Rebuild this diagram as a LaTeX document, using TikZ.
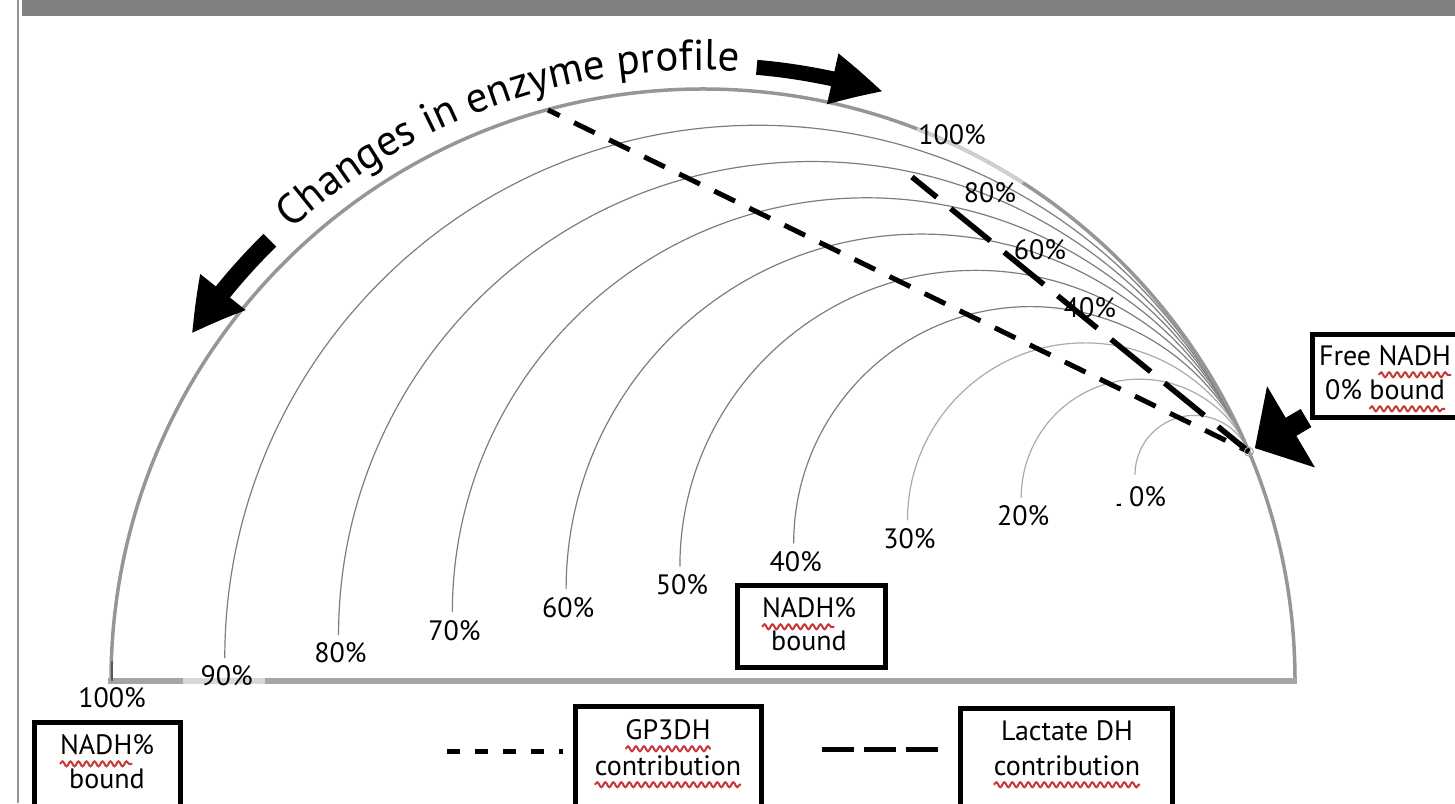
\documentclass[tikz,border=0pt]{standalone}
\usepackage{fontspec}
\setmainfont{PT Sans}
\usetikzlibrary{arrows.meta,bending,calc,decorations.text,decorations.pathmorphing}
\definecolor{sqred}{RGB}{200,55,55}
\definecolor{arcgray}{RGB}{125,125,125}
\definecolor{arclight}{RGB}{170,170,170}
\definecolor{rimgray}{RGB}{150,150,150}
\definecolor{basegray}{RGB}{165,165,165}
\definecolor{barg}{RGB}{128,128,128}
\newcommand\sq[1]{\tikz[baseline=(sqw.base)]{\node[draw=none,fill=none,inner sep=0pt,outer sep=0pt,minimum width=0pt,minimum height=0pt,anchor=base] (sqw) {#1};\draw[overlay,draw=sqred,line width=2pt,decorate,decoration={snake,amplitude=2.5pt,segment length=8pt}] ([yshift=-9pt]sqw.base west) -- ([yshift=-9pt]sqw.base east);}}
\tikzset{
  lab/.style={font=\fontsize{28}{32}\selectfont, inner sep=0pt},
  box/.style={draw=black, line width=5pt, fill=none, inner sep=0pt},
  rim/.style={draw=rimgray, line width=3.5pt},
  inarc/.style={draw=arcgray, line width=1.2pt},
  inarcl/.style={draw=arclight, line width=1.2pt},
  gpdash/.style={line width=5pt, dash pattern=on 23pt off 16pt, dash phase=10pt},
  lddash/.style={line width=5.5pt, dash pattern=on 51pt off 18pt, dash phase=19pt},
  legshort/.style={line width=5pt, dash pattern=on 13pt off 15pt},
  leglong/.style={line width=5pt, dash pattern=on 32pt off 10pt},
  fatarr/.style={line width=21pt, -{Triangle[length=42pt,width=92pt]}},
  curvarrA/.style={line width=18pt, -{Triangle[length=52pt,width=54pt,bend]}},
  curvarrB/.style={line width=15pt, -{Triangle[length=52pt,width=48pt,bend]}},
}
\begin{document}
\begin{tikzpicture}[x=1pt,y=1pt]
\useasboundingbox (0,0) rectangle (1455,803);
\clip (0,0) rectangle (1455,803);
% frame
\fill[barg] (22,786.5) rectangle (1455,803);
\draw[draw=gray!85, line width=2pt] (18,0) -- (18,803);
% key points
\coordinate (O) at (703,122);
\coordinate (B) at (111,122);
\coordinate (F) at (1248.8,351.3);
% inner arcs
\foreach \f in {0.9,0.8,0.7,0.6,0.5,0.4}{
  \pgfmathsetmacro\rr{\f*592}
  \draw[inarc] ($(F)!\f!(B)$) arc[start angle=180,end angle=22.79,radius=\rr];
}
\foreach \f in {0.3,0.2,0.1}{
  \pgfmathsetmacro\rr{\f*592}
  \draw[inarcl] ($(F)!\f!(B)$) arc[start angle=180,end angle=22.79,radius=\rr];
}
% outer semicircle and baseline
\draw[rim] (B) arc[start angle=180,end angle=0,radius=592];
\draw[draw=rimgray!45!white, line width=3.5pt] (O) ++(68.8:592) arc[start angle=68.8,end angle=57.3,radius=592];
\draw[draw=basegray, line width=6pt] (108,122) -- (1297,122);
\draw[draw=basegray!45!white, line width=6pt] (183,122) -- (265,122);
\draw[draw=gray!70!black, line width=2pt] (112,122) -- (112,142);
% labels along chord
\foreach \f/\t in {0.9/90,0.8/80,0.7/70,0.6/60,0.5/50,0.4/40,0.3/30,0.2/20}{
  \node[lab] (lab\t) at ($(F)!\f!(B)+(2,-18)$) {\t\%};
}
\node[lab] (lab10) at (1140,306) {10\%};
\fill[white] ([xshift=-1pt,yshift=1pt]lab10.north west) rectangle ([xshift=14.5pt,yshift=3.5pt]lab10.base west);
\fill[white] ([xshift=7pt,yshift=-1pt]lab10.base west) rectangle ([xshift=14.5pt,yshift=4pt]lab10.base west);
\node[lab] (lab100) at (112,105) {100\%};
% labels along LDH line
\node[lab] (up100) at (952,668) {100\%};
\node[lab] (up80) at (990,610) {80\%};
\node[lab] (up60) at (1040,553) {60\%};
\node[lab] (up40) at (1090,495) {40\%};
% contribution lines
\coordinate (g0) at (548,693);
\coordinate (l0) at (912,626);
\draw[gpdash] (g0) -- (F);
\draw[lddash] (l0) -- (F);
\draw[draw=gray!70, line width=1pt] (F) circle (4.5pt);
% boxes
\node[box, minimum width=152.5pt, minimum height=83pt] (fn) at (1388.75,427) {};
\node[lab] (fnA) at (1385,447) {Free \sq{NADH}};
\node[lab] (fnB) at (1385,413) {0\% \sq{bound}};
\node[box, minimum width=148pt, minimum height=82pt] (nb1) at (811.5,176.5) {};
\node[lab] (nb1A) at (809,195) {\sq{NADH}\%};
\node[lab] (nb1B) at (809,162) {bound};
\node[box, minimum width=146pt, minimum height=100.5pt] (nb2) at (107.5,30.25) {};
\node[lab] (nb2A) at (107,58) {\sq{NADH}\%};
\node[lab] (nb2B) at (107,24) {bound};
\node[box, minimum width=186pt, minimum height=116.5pt] (gp) at (668.5,38.25) {};
\node[lab] (gpA) at (668,73) {\sq{GP3DH}};
\node[lab] (gpB) at (668,37) {\sq{contribution}};
\node[box, minimum width=212pt, minimum height=114.5pt] (ld) at (1066.5,37.25) {};
\node[lab] (ldA) at (1067,72) {Lactate DH};
\node[lab] (ldB) at (1067,37) {\sq{contribution}};
% legend lines
\coordinate (gpl) at (447,52);
\coordinate (ldl) at (822,54);
\draw[legshort, shorten >=10pt] (gpl) -- (gpl -| gp.west);
\draw[leglong, shorten >=20pt] (ldl) -- (ldl -| ld.west);
% arrow to free NADH
\draw[fatarr, shorten >=7pt] ([xshift=-4pt,yshift=2pt]fn.south west) -- (F);
% curved arrows and title
\draw[curvarrA] (O) ++(134.5:618) arc[start angle=134.5,end angle=145.8,radius=618];
\draw[curvarrB] (O) ++(85:616) arc[start angle=85,end angle=73,radius=616];
\path[decorate, decoration={text along path, text={|\fontsize{43}{43}\selectfont|Changes in enzyme profile}, text align=center}]
  (O) ++(149.5:611) arc[start angle=149.5,end angle=69.5,radius=611];
\end{tikzpicture}
\end{document}
